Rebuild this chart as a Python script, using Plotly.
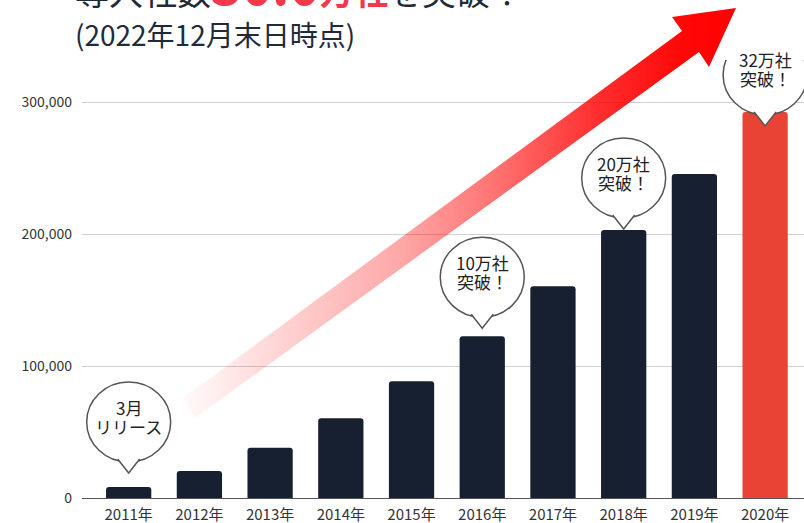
import plotly.graph_objects as go

# ---------------- data ----------------
years = ["2011年", "2012年", "2013年", "2014年", "2015年",
         "2016年", "2017年", "2018年", "2019年", "2020年"]
companies = [8300, 20500, 38000, 60500, 88500,
             122500, 160500, 203000, 245500, 292500]
y_ticks = [0, 100000, 200000, 300000]

callout_years = ["2011年", "2016年", "2018年", "2020年"]
callout_line1 = ["3月", "10万社", "20万社", "32万社"]
callout_line2 = ["リリース", "突破！", "突破！", "突破！"]

title_dark1 = "導入社数"
title_red_num = "30.0"
title_red_unit = "万社"
title_dark2 = "を突破！"
subtitle = "(2022年12月末日時点)"

# ---------------- style ----------------
W, H = 804, 523
FONT = "Noto Sans CJK JP"
DARK = "#162030"
RED_BAR = "#e84335"
bar_colors = [RED_BAR if y == "2020年" else DARK for y in years]
tip_offsets = [14, 8, 1, -14]   # pixel offset of callout tip above bar top

plot_left, plot_top, plot_bottom = 82, 60, 498
px_per_100k = 132.0
y_max = (plot_bottom - plot_top) / px_per_100k * 100000

fig = go.Figure()

fig.add_trace(go.Bar(
    x=years, y=companies,
    marker=dict(color=bar_colors, line=dict(width=0)),
    width=0.64, hoverinfo="skip", showlegend=False,
))

# decorative gradient arrow (page-pixel overlay axes)
arrow_x = [183, 682, 672, 736, 709, 699, 195, 183]
arrow_y = [398, 31, 17, 8, 67, 52, 418, 398]
fig.add_trace(go.Scatter(
    x=arrow_x, y=arrow_y, xaxis="x2", yaxis="y2",
    mode="none", fill="toself", hoverinfo="skip", showlegend=False,
    fillgradient=dict(
        type="horizontal", start=183, stop=736,
        colorscale=[
            [0.0, "rgba(255,0,0,0.02)"],
            [0.05, "rgba(255,0,0,0.06)"],
            [0.21, "rgba(255,0,0,0.20)"],
            [0.39, "rgba(255,0,0,0.34)"],
            [0.57, "rgba(255,0,0,0.56)"],
            [0.75, "rgba(255,0,0,0.82)"],
            [0.90, "rgba(255,0,0,0.97)"],
            [1.0, "rgba(255,0,0,1)"],
        ],
    ),
))

shapes = []
annotations = []
for cy, l1, l2, off in zip(callout_years, callout_line1, callout_line2, tip_offsets):
    val = companies[years.index(cy)]
    common = dict(xref="x", yref="y", xsizemode="pixel", ysizemode="pixel",
                  xanchor=cy, yanchor=val, layer="above")
    shapes.append(dict(type="circle", x0=-42, x1=42, y0=off + 11, y1=off + 91,
                       fillcolor="white", line=dict(color="#555555", width=1.5),
                       **common))
    shapes.append(dict(type="path",
                       path=f"M -11,{off + 14} L 0,{off} L 11,{off + 14}",
                       fillcolor="white", line=dict(color="#555555", width=1.5),
                       **common))
    for txt, dy in ((l1, 15), (l2, -4)):
        annotations.append(dict(x=cy, y=val, xref="x", yref="y",
                                yshift=off + 51 + dy,
                                text=txt, showarrow=False, align="center",
                                xanchor="center", yanchor="middle",
                                font=dict(family=FONT, size=17, color="#222222")))

annotations.append(dict(
    x=73 / W, y=1 - 22 / H, xref="paper", yref="paper",
    xanchor="left", yanchor="bottom", showarrow=False,
    text=(f"{title_dark1}<b><span style='color:#f03a4b;font-size:52px'>{title_red_num}</span>"
          f"<span style='color:#f03a4b'>{title_red_unit}</span></b>{title_dark2}"),
    font=dict(family=FONT, size=34, color="#1f2a3a"),
))
annotations.append(dict(
    x=73 / W, y=1 - 34 / H, xref="paper", yref="paper",
    xanchor="left", yanchor="middle", showarrow=False, text=subtitle,
    font=dict(family=FONT, size=28, color="#1f2a3a"),
))

fig.update_layout(
    width=W, height=H,
    margin=dict(l=0, r=0, t=0, b=0, autoexpand=False),
    paper_bgcolor="white", plot_bgcolor="rgba(0,0,0,0)",
    template="none",
    showlegend=False,
    barcornerradius=3,
    shapes=shapes, annotations=annotations,
    font=dict(family=FONT),
    xaxis=dict(
        domain=[plot_left / W, 1], type="category", range=[-0.66, 9.55],
        showgrid=False, showline=False, zeroline=False, ticks="",
        tickfont=dict(family=FONT, size=15, color="#333333"),
        ticklabelstandoff=6, automargin=False, fixedrange=True,
    ),
    yaxis=dict(
        domain=[1 - plot_bottom / H, 1 - plot_top / H], range=[0, y_max],
        tickvals=y_ticks, tickformat=",d",
        showgrid=True, gridcolor="#d0d0d0", gridwidth=1,
        zeroline=True, zerolinecolor="#555555", zerolinewidth=1.2,
        showline=False, ticks="",
        tickfont=dict(family=FONT, size=14, color="#333333"),
        ticklabelstandoff=9, automargin=False, fixedrange=True,
    ),
    xaxis2=dict(domain=[0, 1], range=[0, W], anchor="y2", visible=False,
                fixedrange=True),
    yaxis2=dict(domain=[0, 1], range=[H, 0], anchor="x2", visible=False,
                fixedrange=True),
)

fig.write_html("out.html",
               config={"displayModeBar": False},
               post_script="document.body.style.margin='0';")
